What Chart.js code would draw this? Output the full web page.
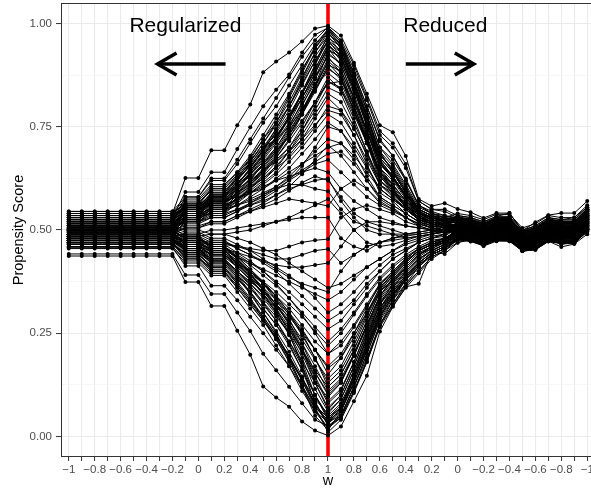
<!DOCTYPE html>
<html>
<head>
<meta charset="utf-8">
<script src="https://cdn.jsdelivr.net/npm/chart.js@4.4.1/dist/chart.umd.min.js"></script>
<style>
  html, body { margin: 0; padding: 0; background: #fff; overflow: hidden; }
  #wrap { width: 591px; height: 490px; overflow: hidden; }
</style>
</head>
<body>
<div id="wrap"><canvas id="chart" width="597" height="490"></canvas></div>
<script>
// w values along the x axis (goes -1 -> 1 -> -1)
const wTicks = ['−1','−0.9','−0.8','−0.7','−0.6','−0.5','−0.4','−0.3','−0.2','−0.1','0',
  '0.1','0.2','0.3','0.4','0.5','0.6','0.7','0.8','0.9','1',
  '0.9','0.8','0.7','0.6','0.5','0.4','0.3','0.2','0.1','0',
  '−0.1','−0.2','−0.3','−0.4','−0.5','−0.6','−0.7','−0.8','−0.9','−1'];
const splitIndex = 20; // w = 1, red line
const yGrid = [0, 0.125, 0.25, 0.375, 0.5, 0.625, 0.75, 0.875, 1];

// propensity score per unit, one array per line
const line01 = [0.54,0.54,0.54,0.54,0.54,0.54,0.54,0.54,0.54,0.626,0.626,0.693,0.693,0.754,0.804,0.882,0.908,0.93,0.957,0.988,0.995,0.971,0.905,0.83,0.754,0.737,0.679,0.575,0.558,0.565,0.551,0.543,0.529,0.541,0.541,0.498,0.519,0.536,0.541,0.541,0.57];
const line02 = [0.53,0.53,0.53,0.53,0.53,0.53,0.53,0.53,0.53,0.592,0.592,0.64,0.64,0.696,0.749,0.80,0.84,0.877,0.93,0.973,0.99,0.955,0.89,0.815,0.73,0.70,0.65,0.57,0.55,0.545,0.53,0.525,0.515,0.53,0.528,0.495,0.505,0.525,0.52,0.52,0.55];
const line03 = [0.52,0.52,0.52,0.52,0.52,0.52,0.52,0.52,0.52,0.58,0.58,0.62,0.62,0.66,0.71,0.76,0.80,0.85,0.90,0.95,0.985,0.95,0.87,0.79,0.70,0.67,0.62,0.56,0.54,0.535,0.525,0.52,0.51,0.523,0.523,0.49,0.50,0.52,0.515,0.515,0.545];
const line04 = [0.535,0.535,0.535,0.535,0.535,0.535,0.535,0.535,0.535,0.57,0.57,0.605,0.605,0.64,0.68,0.73,0.78,0.83,0.89,0.94,0.98,0.94,0.86,0.77,0.68,0.65,0.60,0.55,0.535,0.53,0.52,0.515,0.505,0.518,0.518,0.485,0.495,0.515,0.51,0.51,0.54];
const line05 = [0.51,0.51,0.51,0.51,0.51,0.51,0.51,0.51,0.51,0.555,0.555,0.59,0.59,0.63,0.67,0.72,0.76,0.81,0.87,0.93,0.97,0.93,0.85,0.76,0.66,0.63,0.585,0.545,0.53,0.525,0.515,0.51,0.50,0.513,0.513,0.48,0.49,0.51,0.505,0.505,0.535];
const line06 = [0.545,0.545,0.545,0.545,0.545,0.545,0.545,0.545,0.545,0.56,0.56,0.58,0.58,0.61,0.65,0.69,0.74,0.79,0.85,0.91,0.96,0.935,0.87,0.78,0.69,0.64,0.59,0.55,0.535,0.52,0.535,0.53,0.52,0.533,0.541,0.498,0.51,0.53,0.525,0.53,0.555];
const line07 = [0.50,0.50,0.50,0.50,0.50,0.50,0.50,0.50,0.50,0.545,0.545,0.575,0.575,0.60,0.64,0.68,0.72,0.77,0.83,0.89,0.95,0.91,0.83,0.74,0.65,0.62,0.575,0.54,0.525,0.515,0.51,0.505,0.495,0.508,0.508,0.475,0.485,0.505,0.50,0.50,0.53];
const line08 = [0.525,0.525,0.525,0.525,0.525,0.525,0.525,0.525,0.525,0.565,0.565,0.60,0.60,0.63,0.66,0.70,0.73,0.77,0.82,0.87,0.935,0.92,0.85,0.76,0.67,0.63,0.58,0.54,0.53,0.52,0.505,0.50,0.49,0.503,0.503,0.47,0.48,0.50,0.495,0.495,0.525];
const line09 = [0.515,0.515,0.515,0.515,0.515,0.515,0.515,0.515,0.515,0.54,0.54,0.565,0.565,0.59,0.62,0.66,0.70,0.75,0.81,0.87,0.92,0.88,0.80,0.72,0.63,0.60,0.56,0.53,0.52,0.515,0.52,0.515,0.505,0.518,0.515,0.485,0.495,0.515,0.51,0.51,0.54];
const line10 = [0.49,0.49,0.49,0.49,0.49,0.49,0.49,0.49,0.49,0.53,0.53,0.56,0.56,0.59,0.625,0.66,0.695,0.74,0.79,0.85,0.905,0.87,0.79,0.71,0.62,0.59,0.555,0.53,0.515,0.51,0.50,0.495,0.485,0.498,0.50,0.465,0.475,0.495,0.49,0.49,0.52];
const line11 = [0.54,0.54,0.54,0.54,0.54,0.54,0.54,0.54,0.54,0.575,0.575,0.61,0.61,0.64,0.67,0.70,0.72,0.75,0.79,0.84,0.89,0.87,0.80,0.72,0.64,0.61,0.57,0.545,0.53,0.525,0.53,0.525,0.515,0.528,0.53,0.495,0.505,0.525,0.52,0.52,0.55];
const line12 = [0.505,0.505,0.505,0.505,0.505,0.505,0.505,0.505,0.505,0.535,0.535,0.555,0.555,0.575,0.60,0.63,0.665,0.70,0.75,0.81,0.87,0.84,0.77,0.69,0.61,0.58,0.55,0.525,0.515,0.505,0.495,0.49,0.48,0.493,0.493,0.46,0.47,0.49,0.485,0.485,0.515];
const line13 = [0.52,0.52,0.52,0.52,0.52,0.52,0.52,0.52,0.52,0.55,0.55,0.57,0.57,0.59,0.61,0.64,0.67,0.70,0.74,0.79,0.845,0.83,0.76,0.69,0.62,0.59,0.555,0.53,0.52,0.51,0.515,0.51,0.50,0.513,0.513,0.48,0.49,0.51,0.505,0.505,0.535];
const line14 = [0.50,0.50,0.50,0.50,0.50,0.50,0.50,0.50,0.50,0.52,0.52,0.54,0.54,0.565,0.59,0.615,0.64,0.68,0.72,0.77,0.82,0.79,0.73,0.66,0.59,0.57,0.54,0.52,0.505,0.50,0.49,0.485,0.475,0.488,0.488,0.455,0.465,0.485,0.48,0.48,0.51];
const line15 = [0.535,0.535,0.535,0.535,0.535,0.535,0.535,0.535,0.535,0.555,0.555,0.575,0.575,0.60,0.62,0.645,0.665,0.69,0.72,0.755,0.79,0.78,0.73,0.67,0.61,0.59,0.56,0.54,0.53,0.52,0.525,0.52,0.51,0.525,0.525,0.49,0.50,0.52,0.515,0.515,0.545];
const line16 = [0.51,0.51,0.51,0.51,0.51,0.51,0.51,0.51,0.51,0.525,0.525,0.545,0.545,0.56,0.58,0.60,0.625,0.65,0.685,0.72,0.76,0.74,0.69,0.63,0.58,0.56,0.54,0.52,0.51,0.505,0.505,0.50,0.49,0.505,0.503,0.47,0.48,0.50,0.495,0.495,0.525];
const line17 = [0.495,0.495,0.495,0.495,0.495,0.495,0.495,0.495,0.495,0.515,0.515,0.53,0.53,0.545,0.565,0.585,0.605,0.63,0.66,0.69,0.72,0.71,0.67,0.62,0.575,0.555,0.53,0.515,0.505,0.50,0.50,0.495,0.485,0.50,0.498,0.468,0.478,0.498,0.49,0.492,0.522];
const line18 = [0.53,0.53,0.53,0.53,0.53,0.53,0.53,0.53,0.53,0.54,0.54,0.55,0.55,0.56,0.575,0.59,0.605,0.625,0.645,0.665,0.685,0.69,0.66,0.62,0.58,0.56,0.54,0.52,0.51,0.50,0.512,0.508,0.498,0.51,0.51,0.478,0.488,0.508,0.502,0.503,0.533];
const line19 = [0.515,0.515,0.515,0.515,0.515,0.515,0.515,0.515,0.515,0.53,0.53,0.55,0.55,0.56,0.57,0.585,0.60,0.61,0.61,0.60,0.594,0.55,0.52,0.51,0.50,0.49,0.48,0.485,0.49,0.50,0.495,0.49,0.48,0.495,0.495,0.462,0.472,0.492,0.487,0.488,0.518];
const line20 = [0.50,0.50,0.50,0.50,0.50,0.50,0.50,0.50,0.50,0.51,0.51,0.52,0.52,0.535,0.545,0.555,0.565,0.575,0.57,0.565,0.558,0.60,0.62,0.60,0.57,0.55,0.53,0.51,0.50,0.495,0.508,0.503,0.493,0.506,0.506,0.473,0.483,0.503,0.498,0.498,0.528];
const line21 = [0.485,0.485,0.485,0.485,0.485,0.485,0.485,0.485,0.485,0.49,0.49,0.50,0.50,0.505,0.51,0.515,0.52,0.525,0.53,0.53,0.53,0.48,0.46,0.45,0.47,0.48,0.49,0.495,0.50,0.50,0.49,0.485,0.475,0.49,0.49,0.458,0.468,0.488,0.482,0.483,0.512];
const line22 = [0.475,0.475,0.475,0.475,0.475,0.475,0.475,0.475,0.475,0.47,0.47,0.465,0.465,0.46,0.455,0.45,0.45,0.46,0.47,0.475,0.478,0.53,0.55,0.56,0.55,0.54,0.52,0.51,0.50,0.495,0.515,0.51,0.50,0.515,0.515,0.48,0.49,0.51,0.505,0.505,0.535];
const line23 = [0.48,0.48,0.48,0.48,0.48,0.48,0.48,0.48,0.48,0.475,0.475,0.47,0.47,0.46,0.45,0.44,0.43,0.43,0.44,0.45,0.454,0.42,0.44,0.46,0.47,0.48,0.485,0.49,0.495,0.50,0.485,0.48,0.47,0.483,0.483,0.455,0.46,0.48,0.475,0.475,0.505];
const line24 = [0.47,0.47,0.47,0.47,0.47,0.47,0.47,0.47,0.47,0.46,0.46,0.45,0.45,0.435,0.42,0.405,0.39,0.375,0.36,0.345,0.33,0.35,0.38,0.41,0.43,0.45,0.465,0.475,0.485,0.49,0.50,0.495,0.485,0.498,0.498,0.465,0.475,0.495,0.49,0.49,0.52];
const line25 = [0.49,0.49,0.49,0.49,0.49,0.49,0.49,0.49,0.49,0.475,0.475,0.46,0.46,0.44,0.42,0.40,0.375,0.35,0.32,0.29,0.26,0.28,0.32,0.36,0.40,0.43,0.45,0.47,0.48,0.485,0.505,0.50,0.49,0.503,0.503,0.47,0.48,0.50,0.495,0.495,0.525];
const line26 = [0.465,0.465,0.465,0.465,0.465,0.465,0.465,0.465,0.465,0.445,0.445,0.425,0.425,0.40,0.375,0.35,0.32,0.29,0.25,0.21,0.17,0.20,0.25,0.30,0.35,0.38,0.41,0.44,0.46,0.47,0.49,0.49,0.478,0.49,0.49,0.46,0.468,0.488,0.483,0.485,0.515];
const line27 = [0.50,0.50,0.50,0.50,0.50,0.50,0.50,0.50,0.50,0.48,0.48,0.455,0.455,0.43,0.40,0.37,0.34,0.30,0.26,0.21,0.15,0.19,0.25,0.31,0.37,0.40,0.43,0.455,0.47,0.48,0.50,0.497,0.488,0.50,0.50,0.467,0.477,0.497,0.492,0.492,0.522];
const line28 = [0.475,0.475,0.475,0.475,0.475,0.475,0.475,0.475,0.475,0.45,0.45,0.43,0.43,0.40,0.37,0.34,0.30,0.26,0.21,0.16,0.12,0.15,0.21,0.28,0.35,0.39,0.42,0.45,0.465,0.48,0.495,0.492,0.482,0.495,0.495,0.462,0.472,0.492,0.486,0.487,0.517];
const line29 = [0.47,0.47,0.47,0.47,0.47,0.47,0.47,0.47,0.47,0.43,0.43,0.41,0.41,0.38,0.35,0.31,0.27,0.23,0.18,0.13,0.095,0.13,0.20,0.27,0.34,0.38,0.41,0.44,0.46,0.475,0.48,0.478,0.468,0.478,0.478,0.452,0.456,0.476,0.47,0.47,0.50];
const line30 = [0.485,0.485,0.485,0.485,0.485,0.485,0.485,0.485,0.485,0.46,0.46,0.44,0.44,0.41,0.38,0.345,0.31,0.265,0.21,0.14,0.08,0.11,0.18,0.26,0.33,0.37,0.41,0.44,0.455,0.47,0.488,0.485,0.475,0.488,0.488,0.457,0.465,0.485,0.48,0.48,0.51];
const line31 = [0.495,0.495,0.495,0.495,0.495,0.495,0.495,0.495,0.495,0.47,0.47,0.445,0.445,0.42,0.39,0.355,0.32,0.27,0.21,0.13,0.065,0.10,0.17,0.25,0.32,0.36,0.40,0.43,0.45,0.465,0.497,0.493,0.483,0.496,0.496,0.463,0.473,0.493,0.488,0.488,0.518];
const line32 = [0.47,0.47,0.47,0.47,0.47,0.47,0.47,0.47,0.47,0.44,0.44,0.415,0.415,0.385,0.35,0.31,0.27,0.22,0.16,0.10,0.05,0.08,0.15,0.23,0.31,0.35,0.39,0.42,0.445,0.46,0.482,0.48,0.47,0.482,0.48,0.452,0.46,0.48,0.474,0.475,0.505];
const line33 = [0.458,0.458,0.458,0.458,0.458,0.458,0.458,0.458,0.458,0.413,0.413,0.365,0.365,0.33,0.29,0.25,0.21,0.17,0.12,0.07,0.04,0.06,0.13,0.21,0.29,0.34,0.38,0.41,0.44,0.455,0.475,0.476,0.465,0.475,0.473,0.45,0.455,0.474,0.468,0.47,0.50];
const line34 = [0.442,0.442,0.442,0.442,0.442,0.442,0.442,0.442,0.442,0.391,0.391,0.345,0.345,0.30,0.255,0.20,0.16,0.12,0.08,0.04,0.025,0.045,0.11,0.18,0.27,0.33,0.37,0.40,0.435,0.45,0.47,0.475,0.461,0.473,0.473,0.449,0.452,0.473,0.459,0.466,0.49];
const line35 = [0.437,0.437,0.437,0.437,0.437,0.437,0.437,0.437,0.437,0.374,0.374,0.316,0.316,0.256,0.198,0.121,0.094,0.072,0.036,0.014,0.002,0.024,0.085,0.147,0.254,0.314,0.362,0.37,0.447,0.442,0.469,0.48,0.466,0.48,0.478,0.455,0.458,0.478,0.465,0.47,0.495];
const line36 = [0.48,0.48,0.48,0.48,0.48,0.48,0.48,0.48,0.48,0.455,0.455,0.425,0.425,0.39,0.35,0.30,0.25,0.19,0.12,0.05,0.015,0.06,0.14,0.22,0.30,0.35,0.39,0.42,0.445,0.46,0.485,0.483,0.472,0.485,0.485,0.455,0.463,0.483,0.477,0.478,0.508];
const line37 = [0.505,0.505,0.505,0.505,0.505,0.505,0.505,0.505,0.505,0.485,0.485,0.46,0.46,0.43,0.395,0.355,0.31,0.25,0.17,0.08,0.03,0.07,0.15,0.24,0.32,0.37,0.41,0.44,0.46,0.47,0.492,0.49,0.48,0.493,0.493,0.46,0.47,0.49,0.485,0.485,0.515];
const line38 = [0.468,0.468,0.468,0.468,0.468,0.468,0.468,0.468,0.468,0.435,0.435,0.40,0.40,0.36,0.32,0.28,0.24,0.19,0.14,0.09,0.055,0.09,0.16,0.24,0.31,0.36,0.40,0.43,0.45,0.465,0.478,0.477,0.467,0.478,0.476,0.452,0.457,0.477,0.471,0.472,0.502];
const line39 = [0.525,0.525,0.525,0.525,0.525,0.525,0.525,0.525,0.525,0.545,0.545,0.57,0.57,0.58,0.59,0.60,0.62,0.63,0.64,0.65,0.64,0.60,0.57,0.55,0.53,0.52,0.51,0.505,0.50,0.50,0.517,0.512,0.502,0.515,0.516,0.482,0.492,0.512,0.507,0.508,0.538];
const line40 = [0.51,0.51,0.51,0.51,0.51,0.51,0.51,0.51,0.51,0.50,0.50,0.49,0.49,0.48,0.47,0.455,0.44,0.42,0.40,0.38,0.36,0.37,0.39,0.41,0.43,0.45,0.47,0.48,0.49,0.495,0.503,0.50,0.49,0.502,0.502,0.47,0.48,0.50,0.495,0.496,0.526];
const line41 = [0.50,0.50,0.50,0.50,0.50,0.50,0.50,0.50,0.50,0.49,0.49,0.475,0.475,0.455,0.44,0.42,0.40,0.37,0.34,0.31,0.28,0.30,0.33,0.37,0.40,0.43,0.45,0.47,0.48,0.49,0.51,0.505,0.495,0.508,0.508,0.475,0.485,0.505,0.50,0.50,0.53];
const line42 = [0.52,0.52,0.52,0.52,0.52,0.52,0.52,0.52,0.52,0.54,0.54,0.56,0.56,0.575,0.595,0.62,0.65,0.69,0.74,0.80,0.86,0.84,0.78,0.71,0.64,0.60,0.56,0.535,0.52,0.51,0.51,0.508,0.497,0.51,0.51,0.477,0.487,0.507,0.502,0.502,0.532];
const line43 = [0.53,0.53,0.53,0.53,0.53,0.53,0.53,0.53,0.53,0.56,0.56,0.585,0.585,0.615,0.645,0.68,0.72,0.77,0.83,0.90,0.975,0.95,0.88,0.80,0.72,0.68,0.62,0.56,0.54,0.53,0.54,0.535,0.525,0.538,0.538,0.505,0.515,0.535,0.53,0.53,0.56];
const line44 = [0.49,0.49,0.49,0.49,0.49,0.49,0.49,0.49,0.49,0.52,0.52,0.545,0.545,0.57,0.60,0.635,0.675,0.72,0.78,0.85,0.93,0.90,0.82,0.74,0.65,0.61,0.57,0.535,0.52,0.51,0.507,0.502,0.492,0.505,0.505,0.472,0.482,0.502,0.497,0.497,0.527];
const line45 = [0.475,0.475,0.475,0.475,0.475,0.475,0.475,0.475,0.475,0.445,0.445,0.41,0.41,0.37,0.33,0.285,0.235,0.18,0.12,0.06,0.02,0.05,0.12,0.20,0.28,0.33,0.38,0.41,0.44,0.455,0.48,0.48,0.47,0.48,0.48,0.454,0.46,0.48,0.474,0.475,0.505];
const line46 = [0.455,0.455,0.455,0.455,0.455,0.455,0.455,0.455,0.455,0.42,0.42,0.39,0.39,0.35,0.31,0.27,0.22,0.17,0.11,0.06,0.035,0.05,0.12,0.19,0.27,0.32,0.37,0.41,0.44,0.455,0.477,0.474,0.464,0.476,0.476,0.45,0.456,0.476,0.47,0.472,0.502];
const line47 = [0.545,0.545,0.545,0.545,0.545,0.545,0.545,0.545,0.545,0.58,0.58,0.625,0.625,0.67,0.72,0.77,0.82,0.87,0.92,0.96,0.992,0.96,0.90,0.82,0.74,0.71,0.66,0.57,0.55,0.55,0.535,0.53,0.52,0.533,0.533,0.50,0.51,0.53,0.525,0.525,0.555];
const line48 = [0.505,0.505,0.505,0.505,0.505,0.505,0.505,0.505,0.505,0.55,0.55,0.585,0.585,0.625,0.665,0.71,0.76,0.82,0.88,0.94,0.985,0.945,0.86,0.775,0.69,0.655,0.605,0.55,0.535,0.53,0.522,0.517,0.507,0.52,0.52,0.487,0.497,0.517,0.512,0.512,0.542];
const line49 = [0.525,0.525,0.525,0.525,0.525,0.525,0.525,0.525,0.525,0.555,0.555,0.58,0.58,0.62,0.66,0.70,0.745,0.80,0.86,0.92,0.965,0.945,0.875,0.79,0.70,0.66,0.61,0.555,0.54,0.53,0.528,0.523,0.513,0.526,0.526,0.493,0.503,0.523,0.518,0.518,0.548];
const line50 = [0.54,0.54,0.54,0.54,0.54,0.54,0.54,0.54,0.54,0.565,0.565,0.595,0.595,0.625,0.655,0.69,0.725,0.77,0.82,0.88,0.945,0.925,0.86,0.775,0.685,0.645,0.595,0.55,0.535,0.525,0.532,0.527,0.517,0.53,0.53,0.497,0.507,0.527,0.522,0.522,0.552];
const line51 = [0.50,0.50,0.50,0.50,0.50,0.50,0.50,0.50,0.50,0.535,0.535,0.565,0.565,0.60,0.635,0.675,0.715,0.76,0.82,0.88,0.94,0.90,0.82,0.73,0.64,0.605,0.565,0.535,0.52,0.515,0.512,0.507,0.497,0.51,0.51,0.477,0.487,0.507,0.502,0.502,0.532];
const line52 = [0.515,0.515,0.515,0.515,0.515,0.515,0.515,0.515,0.515,0.545,0.545,0.575,0.575,0.605,0.64,0.68,0.725,0.775,0.835,0.90,0.96,0.92,0.84,0.75,0.66,0.625,0.58,0.54,0.525,0.52,0.518,0.513,0.503,0.516,0.516,0.483,0.493,0.513,0.508,0.508,0.538];
const line53 = [0.53,0.53,0.53,0.53,0.53,0.53,0.53,0.53,0.53,0.55,0.55,0.57,0.57,0.595,0.625,0.655,0.69,0.73,0.78,0.84,0.90,0.885,0.82,0.74,0.66,0.625,0.58,0.545,0.53,0.52,0.525,0.52,0.51,0.523,0.523,0.49,0.50,0.52,0.515,0.515,0.545];
const line54 = [0.495,0.495,0.495,0.495,0.495,0.495,0.495,0.495,0.495,0.525,0.525,0.55,0.55,0.575,0.605,0.64,0.68,0.73,0.785,0.845,0.91,0.88,0.80,0.715,0.63,0.595,0.56,0.53,0.515,0.51,0.505,0.50,0.49,0.503,0.503,0.47,0.48,0.50,0.495,0.495,0.525];
const line55 = [0.51,0.51,0.51,0.51,0.51,0.51,0.51,0.51,0.51,0.54,0.54,0.57,0.57,0.60,0.635,0.67,0.71,0.755,0.805,0.855,0.88,0.855,0.79,0.715,0.635,0.60,0.56,0.53,0.52,0.51,0.514,0.509,0.499,0.512,0.512,0.479,0.489,0.509,0.504,0.504,0.534];
const line56 = [0.52,0.52,0.52,0.52,0.52,0.52,0.52,0.52,0.52,0.535,0.535,0.555,0.555,0.575,0.60,0.625,0.655,0.69,0.73,0.78,0.83,0.81,0.75,0.68,0.61,0.585,0.55,0.525,0.515,0.505,0.506,0.501,0.491,0.504,0.504,0.471,0.481,0.501,0.496,0.496,0.526];
const line57 = [0.505,0.505,0.505,0.505,0.505,0.505,0.505,0.505,0.505,0.52,0.52,0.535,0.535,0.55,0.565,0.58,0.60,0.62,0.64,0.66,0.67,0.64,0.61,0.58,0.56,0.545,0.53,0.515,0.505,0.50,0.508,0.503,0.493,0.506,0.506,0.473,0.483,0.503,0.498,0.498,0.528];
const line58 = [0.49,0.49,0.49,0.49,0.49,0.49,0.49,0.49,0.49,0.505,0.505,0.515,0.515,0.53,0.545,0.56,0.575,0.595,0.615,0.63,0.62,0.58,0.54,0.52,0.51,0.50,0.49,0.49,0.495,0.495,0.502,0.497,0.487,0.50,0.50,0.467,0.477,0.497,0.492,0.492,0.522];
const line59 = [0.48,0.48,0.48,0.48,0.48,0.48,0.48,0.48,0.48,0.485,0.485,0.49,0.49,0.495,0.50,0.51,0.52,0.53,0.545,0.56,0.575,0.54,0.50,0.47,0.46,0.465,0.475,0.485,0.49,0.495,0.498,0.493,0.483,0.496,0.496,0.463,0.473,0.493,0.488,0.488,0.518];
const line60 = [0.47,0.47,0.47,0.47,0.47,0.47,0.47,0.47,0.47,0.465,0.465,0.455,0.455,0.445,0.435,0.425,0.415,0.41,0.41,0.415,0.42,0.46,0.50,0.52,0.52,0.515,0.51,0.505,0.50,0.495,0.504,0.499,0.489,0.502,0.502,0.469,0.479,0.499,0.494,0.494,0.524];
const line61 = [0.495,0.495,0.495,0.495,0.495,0.495,0.495,0.495,0.495,0.485,0.485,0.47,0.47,0.455,0.44,0.425,0.405,0.385,0.37,0.36,0.35,0.40,0.44,0.46,0.47,0.475,0.48,0.485,0.49,0.495,0.495,0.49,0.48,0.493,0.493,0.46,0.47,0.49,0.485,0.485,0.515];
const line62 = [0.485,0.485,0.485,0.485,0.485,0.485,0.485,0.485,0.485,0.465,0.465,0.445,0.445,0.42,0.395,0.37,0.34,0.31,0.27,0.23,0.20,0.23,0.27,0.32,0.37,0.40,0.43,0.455,0.47,0.48,0.492,0.487,0.477,0.49,0.49,0.457,0.467,0.487,0.482,0.482,0.512];
const line63 = [0.475,0.475,0.475,0.475,0.475,0.475,0.475,0.475,0.475,0.455,0.455,0.435,0.435,0.41,0.38,0.35,0.315,0.275,0.225,0.17,0.11,0.14,0.20,0.27,0.34,0.38,0.415,0.445,0.46,0.475,0.49,0.485,0.475,0.488,0.488,0.455,0.465,0.485,0.48,0.48,0.51];
const line64 = [0.49,0.49,0.49,0.49,0.49,0.49,0.49,0.49,0.49,0.465,0.465,0.44,0.44,0.41,0.38,0.345,0.305,0.26,0.20,0.13,0.07,0.10,0.17,0.245,0.32,0.36,0.40,0.43,0.45,0.465,0.486,0.481,0.471,0.484,0.484,0.453,0.461,0.481,0.476,0.476,0.506];
const line65 = [0.48,0.48,0.48,0.48,0.48,0.48,0.48,0.48,0.48,0.45,0.45,0.425,0.425,0.395,0.36,0.32,0.28,0.23,0.17,0.10,0.045,0.075,0.145,0.225,0.305,0.35,0.39,0.42,0.445,0.46,0.482,0.477,0.467,0.48,0.48,0.451,0.457,0.477,0.472,0.472,0.502];
const line66 = [0.50,0.50,0.50,0.50,0.50,0.50,0.50,0.50,0.50,0.475,0.475,0.45,0.45,0.42,0.385,0.345,0.30,0.245,0.18,0.10,0.04,0.07,0.14,0.22,0.30,0.345,0.385,0.42,0.445,0.46,0.49,0.485,0.475,0.488,0.488,0.455,0.465,0.485,0.48,0.48,0.51];
const line67 = [0.47,0.47,0.47,0.47,0.47,0.47,0.47,0.47,0.47,0.44,0.44,0.41,0.41,0.375,0.335,0.29,0.245,0.195,0.14,0.08,0.035,0.065,0.13,0.21,0.29,0.34,0.385,0.415,0.44,0.455,0.48,0.475,0.465,0.478,0.478,0.45,0.455,0.475,0.47,0.47,0.50];
const line68 = [0.485,0.485,0.485,0.485,0.485,0.485,0.485,0.485,0.485,0.455,0.455,0.43,0.43,0.40,0.365,0.325,0.28,0.225,0.16,0.085,0.025,0.05,0.12,0.20,0.285,0.335,0.38,0.41,0.44,0.455,0.484,0.479,0.469,0.482,0.482,0.452,0.459,0.479,0.474,0.474,0.504];
const line69 = [0.46,0.46,0.46,0.46,0.46,0.46,0.46,0.46,0.46,0.425,0.425,0.395,0.395,0.36,0.32,0.28,0.235,0.185,0.125,0.065,0.02,0.045,0.11,0.185,0.27,0.32,0.365,0.40,0.435,0.45,0.478,0.473,0.463,0.476,0.476,0.449,0.453,0.473,0.468,0.468,0.498];
const line70 = [0.50,0.50,0.50,0.50,0.50,0.50,0.50,0.50,0.50,0.48,0.48,0.46,0.46,0.435,0.405,0.37,0.33,0.285,0.225,0.155,0.10,0.13,0.195,0.27,0.34,0.385,0.42,0.45,0.465,0.475,0.496,0.491,0.481,0.494,0.494,0.461,0.471,0.491,0.486,0.486,0.516];
const line71 = [0.49,0.49,0.49,0.49,0.49,0.49,0.49,0.49,0.49,0.47,0.47,0.45,0.45,0.425,0.40,0.37,0.335,0.295,0.245,0.19,0.13,0.16,0.22,0.29,0.355,0.395,0.425,0.45,0.465,0.475,0.50,0.495,0.485,0.498,0.498,0.465,0.475,0.495,0.49,0.49,0.52];
const line72 = [0.475,0.475,0.475,0.475,0.475,0.475,0.475,0.475,0.475,0.46,0.46,0.44,0.44,0.415,0.39,0.36,0.33,0.295,0.255,0.21,0.165,0.19,0.24,0.30,0.36,0.395,0.425,0.45,0.465,0.475,0.494,0.489,0.479,0.492,0.492,0.459,0.469,0.489,0.484,0.484,0.514];
const line73 = [0.51,0.51,0.51,0.51,0.51,0.51,0.51,0.51,0.51,0.52,0.52,0.53,0.53,0.545,0.56,0.575,0.595,0.62,0.655,0.70,0.75,0.74,0.70,0.65,0.60,0.575,0.55,0.525,0.51,0.505,0.516,0.511,0.501,0.514,0.514,0.481,0.491,0.511,0.506,0.506,0.536];
const line74 = [0.535,0.535,0.535,0.535,0.535,0.535,0.535,0.535,0.535,0.55,0.55,0.565,0.565,0.585,0.605,0.625,0.65,0.675,0.71,0.75,0.80,0.79,0.745,0.685,0.62,0.595,0.56,0.535,0.525,0.515,0.524,0.519,0.509,0.522,0.522,0.489,0.499,0.519,0.514,0.514,0.544];
const line75 = [0.52,0.52,0.52,0.52,0.52,0.52,0.52,0.52,0.52,0.555,0.555,0.59,0.59,0.625,0.665,0.71,0.755,0.80,0.855,0.91,0.955,0.93,0.86,0.775,0.685,0.645,0.595,0.55,0.535,0.525,0.526,0.521,0.511,0.524,0.524,0.491,0.501,0.521,0.516,0.516,0.546];
const line76 = [0.50,0.50,0.50,0.50,0.50,0.50,0.50,0.50,0.50,0.53,0.53,0.555,0.555,0.585,0.615,0.65,0.69,0.735,0.79,0.85,0.915,0.89,0.81,0.725,0.64,0.60,0.56,0.53,0.52,0.512,0.51,0.505,0.495,0.508,0.508,0.475,0.485,0.505,0.50,0.50,0.53];
const line77 = [0.525,0.525,0.525,0.525,0.525,0.525,0.525,0.525,0.525,0.56,0.56,0.60,0.60,0.635,0.675,0.72,0.77,0.825,0.885,0.945,0.988,0.955,0.88,0.80,0.715,0.68,0.625,0.56,0.545,0.535,0.53,0.525,0.515,0.528,0.528,0.495,0.505,0.525,0.52,0.52,0.55];
const line78 = [0.505,0.505,0.505,0.505,0.505,0.505,0.505,0.505,0.505,0.54,0.54,0.57,0.57,0.61,0.65,0.695,0.745,0.80,0.865,0.93,0.978,0.94,0.855,0.765,0.675,0.64,0.59,0.545,0.53,0.52,0.516,0.511,0.501,0.514,0.514,0.481,0.491,0.511,0.506,0.506,0.536];
const line79 = [0.515,0.515,0.515,0.515,0.515,0.515,0.515,0.515,0.515,0.55,0.55,0.58,0.58,0.61,0.645,0.685,0.725,0.775,0.83,0.89,0.95,0.92,0.845,0.76,0.67,0.63,0.585,0.545,0.53,0.52,0.52,0.515,0.505,0.518,0.518,0.485,0.495,0.515,0.51,0.51,0.54];
const line80 = [0.535,0.535,0.535,0.535,0.535,0.535,0.535,0.535,0.535,0.56,0.56,0.585,0.585,0.61,0.635,0.665,0.70,0.745,0.80,0.865,0.925,0.905,0.84,0.76,0.675,0.64,0.59,0.545,0.53,0.525,0.527,0.522,0.512,0.525,0.525,0.492,0.502,0.522,0.517,0.517,0.547];
const line81 = [0.50,0.50,0.50,0.50,0.50,0.50,0.50,0.50,0.50,0.525,0.525,0.55,0.55,0.58,0.61,0.645,0.685,0.73,0.78,0.835,0.895,0.865,0.79,0.71,0.63,0.595,0.555,0.525,0.515,0.505,0.507,0.502,0.492,0.505,0.505,0.472,0.482,0.502,0.497,0.497,0.527];
const line82 = [0.525,0.525,0.525,0.525,0.525,0.525,0.525,0.525,0.525,0.545,0.545,0.565,0.565,0.59,0.615,0.645,0.675,0.715,0.76,0.81,0.86,0.845,0.785,0.715,0.645,0.61,0.57,0.54,0.525,0.515,0.52,0.515,0.505,0.518,0.518,0.485,0.495,0.515,0.51,0.51,0.54];
const line83 = [0.51,0.51,0.51,0.51,0.51,0.51,0.51,0.51,0.51,0.53,0.53,0.55,0.55,0.57,0.59,0.61,0.635,0.665,0.70,0.74,0.78,0.76,0.71,0.655,0.60,0.575,0.55,0.525,0.515,0.505,0.513,0.508,0.498,0.511,0.511,0.478,0.488,0.508,0.503,0.503,0.533];
const line84 = [0.495,0.495,0.495,0.495,0.495,0.495,0.495,0.495,0.495,0.505,0.505,0.52,0.52,0.535,0.55,0.565,0.585,0.605,0.635,0.67,0.705,0.68,0.64,0.60,0.565,0.55,0.53,0.515,0.505,0.50,0.503,0.498,0.488,0.501,0.501,0.468,0.478,0.498,0.493,0.493,0.523];
const line85 = [0.54,0.54,0.54,0.54,0.54,0.54,0.54,0.54,0.54,0.55,0.55,0.56,0.56,0.575,0.59,0.605,0.62,0.64,0.66,0.68,0.70,0.71,0.68,0.64,0.60,0.575,0.55,0.53,0.52,0.51,0.53,0.525,0.515,0.528,0.528,0.495,0.505,0.525,0.52,0.52,0.55];
const line86 = [0.52,0.52,0.52,0.52,0.52,0.52,0.52,0.52,0.52,0.53,0.53,0.54,0.54,0.55,0.56,0.57,0.585,0.60,0.61,0.62,0.625,0.57,0.53,0.50,0.49,0.49,0.49,0.495,0.50,0.50,0.515,0.51,0.50,0.513,0.513,0.48,0.49,0.51,0.505,0.505,0.535];
const line87 = [0.53,0.53,0.53,0.53,0.53,0.53,0.53,0.53,0.53,0.555,0.555,0.58,0.58,0.605,0.63,0.66,0.69,0.725,0.765,0.81,0.855,0.86,0.81,0.74,0.665,0.63,0.585,0.55,0.535,0.525,0.522,0.517,0.507,0.52,0.52,0.487,0.497,0.517,0.512,0.512,0.542];
const line88 = [0.51,0.51,0.51,0.51,0.51,0.51,0.51,0.51,0.51,0.545,0.545,0.58,0.58,0.62,0.655,0.695,0.735,0.78,0.83,0.885,0.94,0.915,0.84,0.755,0.665,0.625,0.58,0.54,0.525,0.52,0.51,0.505,0.495,0.508,0.508,0.475,0.485,0.505,0.50,0.50,0.53];
const line89 = [0.485,0.485,0.485,0.485,0.485,0.485,0.485,0.485,0.485,0.47,0.47,0.455,0.455,0.435,0.415,0.39,0.365,0.335,0.30,0.265,0.23,0.26,0.30,0.345,0.385,0.415,0.44,0.46,0.475,0.48,0.498,0.493,0.483,0.496,0.496,0.463,0.473,0.493,0.488,0.488,0.518];
const line90 = [0.465,0.465,0.465,0.465,0.465,0.465,0.465,0.465,0.465,0.445,0.445,0.42,0.42,0.39,0.36,0.325,0.29,0.25,0.205,0.155,0.105,0.135,0.195,0.265,0.335,0.375,0.41,0.44,0.46,0.47,0.485,0.48,0.47,0.483,0.483,0.452,0.46,0.48,0.475,0.475,0.505];
const line91 = [0.49,0.49,0.49,0.49,0.49,0.49,0.49,0.49,0.49,0.47,0.47,0.45,0.45,0.425,0.395,0.36,0.32,0.275,0.215,0.145,0.085,0.115,0.18,0.255,0.325,0.365,0.405,0.435,0.455,0.47,0.492,0.487,0.477,0.49,0.49,0.457,0.467,0.487,0.482,0.482,0.512];
const line92 = [0.475,0.475,0.475,0.475,0.475,0.475,0.475,0.475,0.475,0.45,0.45,0.42,0.42,0.385,0.345,0.30,0.255,0.205,0.145,0.075,0.03,0.06,0.13,0.21,0.29,0.34,0.385,0.415,0.44,0.455,0.483,0.478,0.468,0.481,0.481,0.451,0.458,0.478,0.473,0.473,0.503];
const line93 = [0.50,0.50,0.50,0.50,0.50,0.50,0.50,0.50,0.50,0.48,0.48,0.46,0.46,0.435,0.405,0.375,0.34,0.30,0.25,0.19,0.12,0.15,0.21,0.28,0.35,0.39,0.42,0.45,0.465,0.475,0.501,0.496,0.486,0.499,0.499,0.466,0.476,0.496,0.491,0.491,0.521];
const line94 = [0.465,0.465,0.465,0.465,0.465,0.465,0.465,0.465,0.465,0.435,0.435,0.405,0.405,0.37,0.33,0.29,0.245,0.195,0.135,0.07,0.01,0.04,0.105,0.18,0.265,0.315,0.36,0.395,0.43,0.45,0.477,0.472,0.462,0.475,0.475,0.449,0.452,0.472,0.467,0.467,0.497];
const line95 = [0.48,0.48,0.48,0.48,0.48,0.48,0.48,0.48,0.48,0.46,0.46,0.44,0.44,0.415,0.385,0.355,0.32,0.28,0.235,0.185,0.14,0.17,0.23,0.295,0.36,0.395,0.425,0.45,0.465,0.475,0.49,0.485,0.475,0.488,0.488,0.455,0.465,0.485,0.48,0.48,0.51];
const line96 = [0.495,0.495,0.495,0.495,0.495,0.495,0.495,0.495,0.495,0.48,0.48,0.465,0.465,0.445,0.425,0.40,0.37,0.335,0.295,0.25,0.20,0.22,0.265,0.315,0.365,0.40,0.43,0.455,0.47,0.48,0.497,0.492,0.482,0.495,0.495,0.462,0.472,0.492,0.487,0.487,0.517];
const line97 = [0.47,0.47,0.47,0.47,0.47,0.47,0.47,0.47,0.47,0.455,0.455,0.44,0.44,0.42,0.40,0.375,0.35,0.32,0.29,0.255,0.22,0.25,0.295,0.34,0.38,0.41,0.435,0.455,0.47,0.48,0.489,0.484,0.474,0.487,0.487,0.454,0.464,0.484,0.479,0.479,0.509];
const line98 = [0.505,0.505,0.505,0.505,0.505,0.505,0.505,0.505,0.505,0.495,0.495,0.48,0.48,0.465,0.45,0.43,0.41,0.39,0.365,0.335,0.30,0.32,0.35,0.385,0.415,0.44,0.455,0.47,0.48,0.49,0.505,0.50,0.49,0.503,0.503,0.47,0.48,0.50,0.495,0.495,0.525];
const line99 = [0.48,0.48,0.48,0.48,0.48,0.48,0.48,0.48,0.48,0.455,0.455,0.43,0.43,0.40,0.37,0.335,0.295,0.25,0.19,0.115,0.06,0.09,0.16,0.235,0.31,0.355,0.395,0.425,0.45,0.465,0.488,0.483,0.473,0.486,0.486,0.454,0.463,0.483,0.478,0.478,0.508];
const line100 = [0.46,0.46,0.46,0.46,0.46,0.46,0.46,0.46,0.46,0.43,0.43,0.40,0.40,0.365,0.325,0.285,0.24,0.19,0.135,0.075,0.045,0.07,0.14,0.215,0.295,0.345,0.385,0.415,0.44,0.455,0.48,0.475,0.465,0.478,0.478,0.45,0.455,0.475,0.47,0.47,0.50];

const allLines = [line01, line02, line03, line04, line05, line06, line07, line08, line09, line10,
  line11, line12, line13, line14, line15, line16, line17, line18, line19, line20,
  line21, line22, line23, line24, line25, line26, line27, line28, line29, line30,
  line31, line32, line33, line34, line35, line36, line37, line38, line39, line40,
  line41, line42, line43, line44, line45, line46, line47, line48, line49, line50,
  line51, line52, line53, line54, line55, line56, line57, line58, line59, line60,
  line61, line62, line63, line64, line65, line66, line67, line68, line69, line70,
  line71, line72, line73, line74, line75, line76, line77, line78, line79, line80,
  line81, line82, line83, line84, line85, line86, line87, line88, line89, line90,
  line91, line92, line93, line94, line95, line96, line97, line98, line99, line100];

// text labels and arrows, in data units (x index, score)
const notes = [
  { text: 'Regularized', x: 9.0, y: 0.98 },
  { text: 'Reduced', x: 29.05, y: 0.98 }
];
const arrows = [
  { from: 12.1, to: 6.85, y: 0.902 },
  { from: 26.0, to: 31.25, y: 0.902 }
];

Chart.defaults.font.family = '"Liberation Sans", Arial, Helvetica, sans-serif';

// red cut line, annotations and panel border
const decor = {
  id: 'decor',
  beforeDatasetsDraw(chart) {
    const { ctx, chartArea: a, scales: { x } } = chart;
    const px = x.getPixelForValue(splitIndex);
    ctx.save();
    ctx.strokeStyle = '#FF0000';
    ctx.lineWidth = 3.6;
    ctx.beginPath();
    ctx.moveTo(px, a.top);
    ctx.lineTo(px, a.bottom);
    ctx.stroke();
    ctx.restore();
  },
  afterDatasetsDraw(chart) {
    const { ctx, scales: { x, y } } = chart;
    ctx.save();
    ctx.fillStyle = '#000';
    ctx.font = '21px "Liberation Sans", Arial, sans-serif';
    ctx.textAlign = 'center';
    ctx.textBaseline = 'alphabetic';
    notes.forEach(n => ctx.fillText(n.text, x.getPixelForValue(n.x), y.getPixelForValue(n.y)));

    ctx.strokeStyle = '#000';
    ctx.lineWidth = 3.5;
    ctx.lineCap = 'butt';
    ctx.lineJoin = 'miter';
    arrows.forEach(ar => {
      const x0 = x.getPixelForValue(ar.from);
      const x1 = x.getPixelForValue(ar.to);
      const py = y.getPixelForValue(ar.y);
      const dir = x1 > x0 ? 1 : -1;
      ctx.beginPath();
      ctx.moveTo(x0, py);
      ctx.lineTo(x1, py);
      ctx.stroke();
      ctx.beginPath();
      ctx.moveTo(x1 - dir * 19, py - 11);
      ctx.lineTo(x1, py);
      ctx.lineTo(x1 - dir * 19, py + 11);
      ctx.stroke();
    });
    ctx.restore();
  },
  afterDraw(chart) {
    const { ctx, chartArea: a } = chart;
    ctx.save();
    ctx.strokeStyle = '#333333';
    ctx.lineWidth = 1;
    ctx.strokeRect(a.left + 0.5, a.top + 0.5, a.width - 1, a.height - 1);
    ctx.restore();
  }
};

new Chart(document.getElementById('chart').getContext('2d'), {
  type: 'line',
  data: {
    datasets: allLines.map(vals => ({
      data: vals.map((v, i) => ({ x: i, y: v })),
      borderColor: '#000',
      borderWidth: 1,
      pointRadius: 2,
      pointBackgroundColor: '#000',
      pointBorderWidth: 0,
      pointHoverRadius: 0,
      tension: 0,
      fill: false
    }))
  },
  options: {
    responsive: false,
    animation: false,
    events: [],
    layout: { padding: { top: 3, right: 0, bottom: 0, left: 0 } },
    plugins: { legend: { display: false }, tooltip: { enabled: false } },
    scales: {
      x: {
        type: 'linear',
        min: -0.6,
        max: 40.6,
        afterBuildTicks: scale => { scale.ticks = wTicks.map((t, i) => ({ value: i })); },
        afterFit: scale => { scale.height = 33; scale.paddingLeft = 0; scale.paddingRight = 0; },
        border: { display: false },
        grid: { color: '#EBEBEB', lineWidth: 1.1, tickColor: '#333333', tickLength: 4, tickWidth: 1 },
        ticks: {
          autoSkip: false, maxRotation: 0, minRotation: 0, padding: 2,
          color: '#4D4D4D', font: { size: 11.5 },
          callback: (v, i) => (i % 2 === 0 ? wTicks[i] : '')
        },
        title: { display: true, text: 'w', color: '#000', font: { size: 14.5 }, padding: { top: 0, bottom: 0 } }
      },
      y: {
        min: -0.05,
        max: 1.05,
        afterBuildTicks: scale => { scale.ticks = yGrid.map(v => ({ value: v })); },
        afterFit: scale => { scale.width = 61; scale.paddingTop = 0; scale.paddingBottom = 0; },
        border: { display: false },
        grid: {
          color: ctx => (ctx.tick && ctx.tick.value % 0.25 === 0 ? '#EBEBEB' : '#F2F2F2'),
          lineWidth: ctx => (ctx.tick && ctx.tick.value % 0.25 === 0 ? 1.1 : 0.6),
          tickColor: ctx => (ctx.tick && ctx.tick.value % 0.25 === 0 ? '#333333' : 'rgba(0,0,0,0)'),
          tickLength: 5, tickWidth: 1
        },
        ticks: {
          padding: 4, color: '#4D4D4D', font: { size: 11.5 },
          callback: v => (v % 0.25 === 0 ? v.toFixed(2) : '')
        },
        title: { display: true, text: 'Propensity Score', color: '#000', font: { size: 14.5 }, padding: { top: 10, bottom: 0 } }
      }
    }
  },
  plugins: [decor]
});
</script>
</body>
</html>
